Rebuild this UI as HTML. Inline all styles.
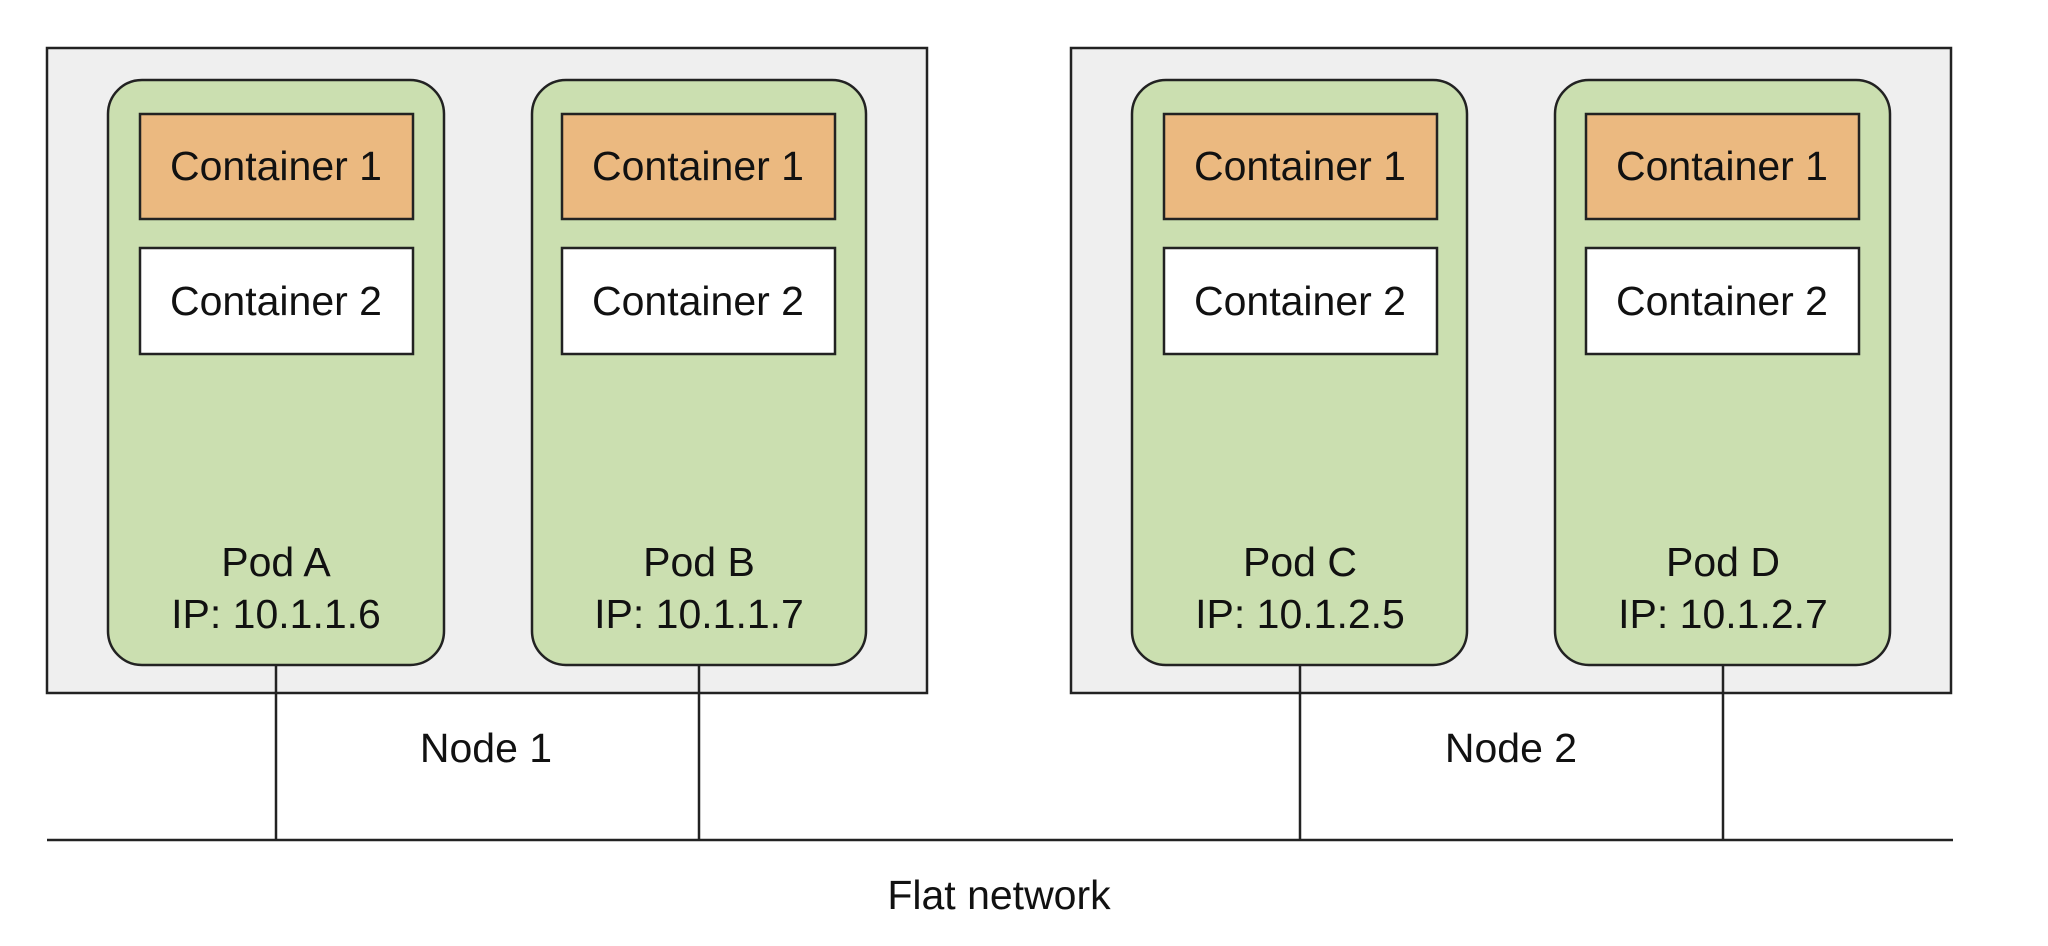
<!DOCTYPE html>
<html><head><meta charset="utf-8"><style>
html,body{margin:0;padding:0;background:#fff;}
svg{display:block;}
text{font-family:"Liberation Sans",sans-serif;font-size:41px;fill:#111;text-anchor:middle;dominant-baseline:central;}
</style></head><body>
<svg width="2048" height="946" viewBox="0 0 2048 946">
<g stroke="#222" stroke-width="2.5">
<rect x="47" y="48" width="880" height="645" fill="#efefef"/>
<rect x="1071" y="48" width="880" height="645" fill="#efefef"/>
<line x1="47" y1="840" x2="1953" y2="840"/>
<line x1="276" y1="665" x2="276" y2="840"/>
<line x1="699" y1="665" x2="699" y2="840"/>
<line x1="1300" y1="665" x2="1300" y2="840"/>
<line x1="1723" y1="665" x2="1723" y2="840"/>
<rect x="108" y="80" width="336" height="585" rx="34" fill="#cbdfb0"/>
<rect x="532" y="80" width="334" height="585" rx="34" fill="#cbdfb0"/>
<rect x="1132" y="80" width="335" height="585" rx="34" fill="#cbdfb0"/>
<rect x="1555" y="80" width="335" height="585" rx="34" fill="#cbdfb0"/>
<rect x="140" y="114" width="273" height="105" fill="#ebb980"/>
<rect x="562" y="114" width="273" height="105" fill="#ebb980"/>
<rect x="1164" y="114" width="273" height="105" fill="#ebb980"/>
<rect x="1586" y="114" width="273" height="105" fill="#ebb980"/>
<rect x="140" y="248" width="273" height="106" fill="#fff"/>
<rect x="562" y="248" width="273" height="106" fill="#fff"/>
<rect x="1164" y="248" width="273" height="106" fill="#fff"/>
<rect x="1586" y="248" width="273" height="106" fill="#fff"/>
</g>
<text x="276" y="166">Container 1</text>
<text x="698" y="166">Container 1</text>
<text x="1300" y="166">Container 1</text>
<text x="1722" y="166">Container 1</text>
<text x="276" y="301">Container 2</text>
<text x="698" y="301">Container 2</text>
<text x="1300" y="301">Container 2</text>
<text x="1722" y="301">Container 2</text>
<text x="276" y="562">Pod A</text>
<text x="699" y="562">Pod B</text>
<text x="1300" y="562">Pod C</text>
<text x="1723" y="562">Pod D</text>
<text x="276" y="614">IP: 10.1.1.6</text>
<text x="699" y="614">IP: 10.1.1.7</text>
<text x="1300" y="614">IP: 10.1.2.5</text>
<text x="1723" y="614">IP: 10.1.2.7</text>
<text x="486" y="748">Node 1</text>
<text x="1511" y="748">Node 2</text>
<text x="999" y="895">Flat network</text>
</svg>
</body></html>
